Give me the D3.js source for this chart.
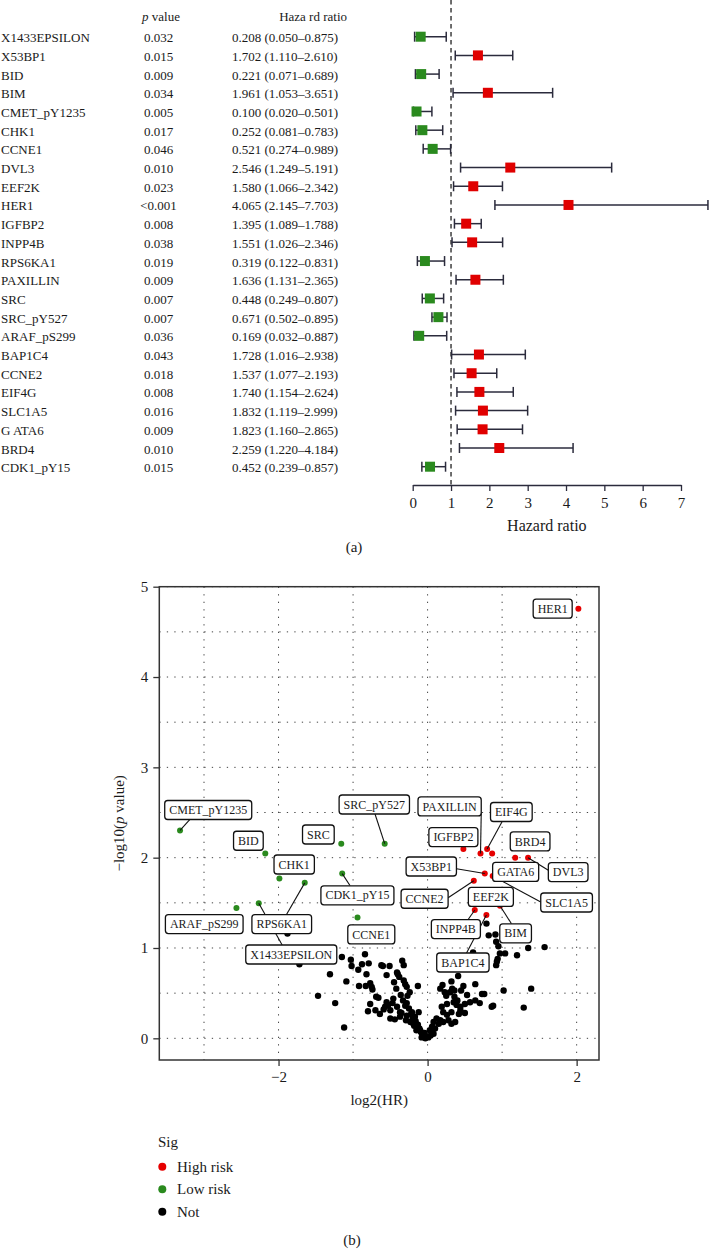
<!DOCTYPE html>
<html lang="en">
<head>
<meta charset="UTF-8">
<title>Hazard ratio forest plot and volcano plot</title>
<script src="https://cdn.jsdelivr.net/npm/d3@7"></script>
<style>
  body { margin: 0; background: #fff; }
  svg { display: block; }
  text { font-family: 'Liberation Serif', 'Times New Roman', serif; fill: #1a1a1a; }
</style>
</head>
<body>
<svg id="chart" width="709" height="1250"></svg>
<script>
// ---- data: forest table ----
const genes = ["X1433EPSILON", "X53BP1", "BID", "BIM", "CMET_pY1235", "CHK1", "CCNE1", "DVL3",
  "EEF2K", "HER1", "IGFBP2", "INPP4B", "RPS6KA1", "PAXILLIN", "SRC", "SRC_pY527", "ARAF_pS299",
  "BAP1C4", "CCNE2", "EIF4G", "SLC1A5", "GATA6", "BRD4", "CDK1_pY15"];
const geneDisplay = ["X1433EPSILON", "X53BP1", "BID", "BIM", "CMET_pY1235", "CHK1", "CCNE1", "DVL3",
  "EEF2K", "HER1", "IGFBP2", "INPP4B", "RPS6KA1", "PAXILLIN", "SRC", "SRC_pY527", "ARAF_pS299",
  "BAP1C4", "CCNE2", "EIF4G", "SLC1A5", "G ATA6", "BRD4", "CDK1_pY15"];
const pLabels = ["0.032", "0.015", "0.009", "0.034", "0.005", "0.017", "0.046", "0.010", "0.023",
  "<0.001", "0.008", "0.038", "0.019", "0.009", "0.007", "0.007", "0.036", "0.043", "0.018",
  "0.008", "0.016", "0.009", "0.010", "0.015"];
const hrValues = [0.208, 1.702, 0.221, 1.961, 0.100, 0.252, 0.521, 2.546, 1.580, 4.065, 1.395, 1.551,
  0.319, 1.636, 0.448, 0.671, 0.169, 1.728, 1.537, 1.740, 1.832, 1.823, 2.259, 0.452];
const hrLower = [0.050, 1.110, 0.071, 1.053, 0.020, 0.081, 0.274, 1.249, 1.066, 2.145, 1.089, 1.026,
  0.122, 1.131, 0.249, 0.502, 0.032, 1.016, 1.077, 1.154, 1.119, 1.160, 1.220, 0.239];
const hrUpper = [0.875, 2.610, 0.689, 3.651, 0.501, 0.783, 0.989, 5.191, 2.342, 7.703, 1.788, 2.346,
  0.831, 2.365, 0.807, 0.895, 0.887, 2.938, 2.193, 2.624, 2.999, 2.865, 4.184, 0.857];
// numeric p values (HER1)
const pValues = [0.032, 0.015, 0.009, 0.034, 0.005, 0.017, 0.046, 0.010, 0.023, 0.0000175, 0.008,
  0.038, 0.019, 0.009, 0.007, 0.007, 0.036, 0.043, 0.018, 0.008, 0.016, 0.009, 0.010, 0.015];
const hrTicks = [0, 1, 2, 3, 4, 5, 6, 7];
const volcanoXTicks = [-2, 0, 2];
const volcanoYTicks = [0, 1, 2, 3, 4, 5];

// ---- data: non significant proteins (log2 HR, -log10 p) ----
const notSig = [
  [-1.88, 1.16], [-1.72, 0.82], [-1.47, 0.47], [-1.31, 0.71], [-1.24, 0.39], [-1.15, 0.90],
  [-1.12, 0.12], [-1.09, 0.63], [-1.03, 0.87], [-1.02, 0.80], [-0.93, 0.76], [-0.92, 0.58],
  [-0.88, 0.82], [-0.84, 0.93], [-0.83, 0.58], [-0.82, 0.71], [-0.80, 0.30], [-0.79, 0.83],
  [-0.77, 0.61], [-0.77, 0.38], [-0.75, 0.57], [-0.74, 0.54], [-0.70, 0.31], [-0.69, 0.46],
  [-0.66, 0.45], [-0.64, 0.27], [-0.62, 0.81], [-0.60, 0.80], [-0.59, 0.32], [-0.57, 0.35],
  [-0.55, 0.70], [-0.55, 0.40], [-0.53, 0.37], [-0.51, 0.80], [-0.50, 0.31], [-0.50, 0.22],
  [-0.47, 0.39], [-0.46, 0.44], [-0.45, 0.62], [-0.44, 0.21], [-0.42, 0.55], [-0.41, 0.73],
  [-0.41, 0.35], [-0.40, 0.71], [-0.38, 0.68], [-0.37, 0.29], [-0.37, 0.24], [-0.36, 0.48],
  [-0.35, 0.28], [-0.34, 0.86], [-0.33, 0.42], [-0.32, 0.81], [-0.32, 0.64], [-0.30, 0.60],
  [-0.30, 0.36], [-0.29, 0.20], [-0.28, 0.57], [-0.28, 0.39], [-0.28, 0.25], [-0.27, 0.47],
  [-0.25, 0.33], [-0.24, 0.51], [-0.23, 0.18], [-0.22, 0.27], [-0.21, 0.29], [-0.20, 0.22],
  [-0.19, 0.16], [-0.18, 0.14], [-0.17, 0.24], [-0.16, 0.19], [-0.15, 0.13], [-0.15, 0.09],
  [-0.13, 0.58], [-0.13, 0.15], [-0.12, 0.29], [-0.11, 0.11], [-0.10, 0.09], [-0.09, 0.07],
  [-0.08, 0.01], [-0.07, 0.04], [-0.06, 0.05], [-0.05, 0.03], [-0.04, 0.06], [-0.03, 0.00],
  [-0.01, 0.02], [0.01, 0.01], [0.03, 0.09], [0.04, 0.03], [0.06, 0.13], [0.08, 0.05],
  [0.08, 0.18], [0.10, 0.11], [0.12, 0.22], [0.15, 0.16], [0.17, 0.20], [0.17, 0.55],
  [0.19, 0.35], [0.20, 0.59], [0.21, 0.29], [0.21, 0.18], [0.23, 0.51], [0.25, 0.47],
  [0.26, 0.26], [0.26, 0.38], [0.28, 0.20], [0.30, 0.51], [0.32, 0.63], [0.32, 0.29],
  [0.32, 0.16], [0.33, 0.55], [0.35, 0.40], [0.36, 0.53], [0.36, 0.46], [0.37, 0.18],
  [0.39, 0.37], [0.40, 0.42], [0.41, 0.69], [0.42, 0.27], [0.44, 0.31], [0.44, 0.35],
  [0.45, 0.53], [0.48, 0.58], [0.50, 0.28], [0.50, 0.38], [0.53, 0.48], [0.57, 0.40],
  [0.61, 0.95], [0.64, 0.60], [0.64, 0.42], [0.70, 0.39], [0.73, 0.49], [0.76, 0.49],
  [0.79, 1.27], [0.82, 1.14], [0.86, 0.35], [0.88, 0.36], [0.91, 1.15], [0.92, 1.07],
  [0.92, 0.81], [0.93, 0.85], [0.94, 0.88], [0.95, 1.02], [0.97, 0.94], [1.02, 0.53],
  [1.04, 0.94], [1.20, 0.92], [1.29, 0.34], [1.35, 1.00], [1.39, 0.55], [1.57, 1.01]
];

const sigNames = ["High risk", "Low risk", "Not"];
const sigColors = ["#e60000", "#2a8a1e", "#000000"];

// label placement (pixel offset of box centre from the point, leader anchor on box)
const labelLayout = {
  "X1433EPSILON": [32.5, 51.2, 0.40, 0], "X53BP1": [-53.5, -7.1, 1, 0.62], "BID": [-16.9, -12.8],
  "BIM": [15.6, 27.6, 0.37, 0], "CMET_pY1235": [28.2, -20.5, 0.29, 1], "CHK1": [14.8, -14],
  "CCNE1": [13.8, 16.9], "DVL3": [40.1, 14.4, 0, 0.4], "EEF2K": [14.1, 6.6], "HER1": [-25.7, 0],
  "IGFBP2": [-10, -11.8], "INPP4B": [-18.9, 19, 0.75, 0], "RPS6KA1": [-23, 41.2, 0.58, 0],
  "PAXILLIN": [-30.9, -47.1, 1, 0.85], "SRC": [-22.9, -9.2], "SRC_pY527": [-10.4, -39.2, 0.51, 1],
  "ARAF_pS299": [-32.2, 16.2], "BAP1C4": [-23.5, 47.6, 0.57, 0], "CCNE2": [-49.2, 18, 1, 0.45],
  "EIF4G": [24.2, -36.9, 0.28, 1], "SLC1A5": [73.9, 26.4, 0, 0.47], "GATA6": [23.5, 18.4],
  "BRD4": [14.9, -16.2], "CDK1_pY15": [15.2, 21.7, 0.4, 0]
};

const svg = d3.select("#chart");
const rows = genes.map((g, i) => ({
  gene: g, label: geneDisplay[i], p: pLabels[i], hr: hrValues[i], lo: hrLower[i], hi: hrUpper[i],
  pv: pValues[i]
}));

// ================= (a) forest plot =================
const yRow = d3.scalePoint().domain(genes).range([36.7, 466.7]);
const xHr = d3.scaleLinear().domain([0, 7]).range([412.7, 681]);
const axisY = 485;

const hdr = svg.append("g").style("font-size", "13px");
hdr.append("text").attr("x", 161).attr("y", 21).attr("text-anchor", "middle")
  .call(t => { t.append("tspan").style("font-style", "italic").text("p"); t.append("tspan").text(" value"); });
hdr.append("text").attr("x", 347).attr("y", 21).attr("text-anchor", "end").text("Haza rd ratio");

const table = svg.append("g").style("font-size", "13px");
table.selectAll(".gname").data(rows).join("text")
  .attr("x", 1).attr("y", d => yRow(d.gene) + 5.5).text(d => d.label);
table.selectAll(".pval").data(rows).join("text")
  .attr("x", 158.5).attr("y", d => yRow(d.gene) + 5.5).attr("text-anchor", "middle").text(d => d.p);
table.selectAll(".hrtxt").data(rows).join("text")
  .attr("x", 232).attr("y", d => yRow(d.gene) + 5.5)
  .text(d => `${d.hr.toFixed(3)} (${d.lo.toFixed(3)}–${d.hi.toFixed(3)})`);

// reference line at HR = 1
svg.append("line")
  .attr("x1", xHr(1)).attr("x2", xHr(1)).attr("y1", 0).attr("y2", axisY)
  .attr("stroke", "#555").attr("stroke-width", 1.7).attr("stroke-dasharray", "4.5,3.5");

const bars = svg.append("g").attr("stroke", "#2b2b3c").attr("stroke-width", 1.5);
bars.selectAll(".ci").data(rows).join("line")
  .attr("x1", d => xHr(d.lo)).attr("x2", d => xHr(d.hi))
  .attr("y1", d => yRow(d.gene)).attr("y2", d => yRow(d.gene));
bars.selectAll(".capL").data(rows).join("line")
  .attr("x1", d => xHr(d.lo)).attr("x2", d => xHr(d.lo))
  .attr("y1", d => yRow(d.gene) - 5).attr("y2", d => yRow(d.gene) + 5);
bars.selectAll(".capR").data(rows).join("line")
  .attr("x1", d => xHr(d.hi)).attr("x2", d => xHr(d.hi))
  .attr("y1", d => yRow(d.gene) - 5).attr("y2", d => yRow(d.gene) + 5);

svg.append("g").selectAll("rect").data(rows).join("rect")
  .attr("x", d => xHr(d.hr) - 5).attr("y", d => yRow(d.gene) - 5)
  .attr("width", 10).attr("height", 10)
  .attr("fill", d => d.hr > 1 ? "#e00000" : "#2a8a1e");

const hrAxis = svg.append("g").attr("transform", `translate(0,${axisY})`)
  .call(d3.axisBottom(xHr).tickValues(hrTicks).tickFormat(d3.format("d"))
    .tickSize(6).tickSizeOuter(0).tickPadding(6));
hrAxis.select(".domain").attr("stroke", "#2b2b3c").attr("stroke-width", 1.5);
hrAxis.selectAll(".tick line").attr("stroke", "#2b2b3c").attr("stroke-width", 1.3);
hrAxis.selectAll(".tick text").style("font-family", "'Liberation Serif', serif")
  .style("font-size", "15px").attr("fill", "#1a1a1a");
svg.append("text").attr("x", xHr(3.5)).attr("y", 531).attr("text-anchor", "middle")
  .style("font-size", "16px").text("Hazard ratio");
svg.append("text").attr("x", 354).attr("y", 552).attr("text-anchor", "middle")
  .style("font-size", "15px").text("(a)");

// ================= (b) volcano plot =================
const vx = d3.scaleLinear().domain([-3.6, 2.3]).range([159.3, 599]);
const vy = d3.scaleLinear().domain([-0.24, 5]).range([1060, 586.7]);
const [vx0, vx1] = vx.range();
const [vyBottom, vyTop] = vy.range();

const grid = svg.append("g").attr("stroke", "#444").attr("stroke-width", 1)
  .attr("stroke-dasharray", "1.3,6.2");
grid.selectAll(".gv").data([-3, -2, -1, 0, 1, 2]).join("line")
  .attr("x1", d => vx(d)).attr("x2", d => vx(d)).attr("y1", vyTop).attr("y2", vyBottom);
grid.selectAll(".gh").data(d3.range(0, 5.01, 0.5)).join("line")
  .attr("x1", vx0).attr("x2", vx1).attr("y1", d => vy(d)).attr("y2", d => vy(d));

const sigRows = rows.map(d => ({
  gene: d.gene, x: Math.log2(d.hr), y: -Math.log10(d.pv), sig: d.hr > 1 ? 0 : 1
}));

svg.append("g").selectAll("circle").data(notSig).join("circle")
  .attr("cx", d => vx(d[0])).attr("cy", d => vy(d[1])).attr("r", 3.2).attr("fill", sigColors[2]);
svg.append("g").selectAll("circle").data(sigRows).join("circle")
  .attr("cx", d => vx(d.x)).attr("cy", d => vy(d.y)).attr("r", 3).attr("fill", d => sigColors[d.sig]);

// repelled labels
const labelG = svg.append("g");
const leaders = labelG.append("g").attr("stroke", "#111").attr("stroke-width", 1.1);
const boxes = labelG.append("g");
sigRows.forEach(d => {
  const lay = labelLayout[d.gene];
  const px = vx(d.x), py = vy(d.y);
  const cx = px + lay[0], cy = py + lay[1];
  const g = boxes.append("g");
  const t = g.append("text").attr("x", cx).attr("y", cy + 4.2).attr("text-anchor", "middle")
    .style("font-size", "12px").attr("fill", "#111").text(d.gene);
  const w = t.node().getComputedTextLength() + 9, h = 19;
  g.insert("rect", "text").attr("x", cx - w / 2).attr("y", cy - h / 2).attr("width", w).attr("height", h)
    .attr("rx", 3).attr("fill", "#fff").attr("stroke", "#111").attr("stroke-width", 1.3);
  if (lay.length > 2) {
    leaders.append("line").attr("x1", px).attr("y1", py)
      .attr("x2", cx - w / 2 + lay[2] * w).attr("y2", cy - h / 2 + lay[3] * h);
  }
});

// axes and frame
const yAx = svg.append("g").attr("transform", `translate(${vx0},0)`)
  .call(d3.axisLeft(vy).tickValues(volcanoYTicks).tickFormat(d3.format("d"))
    .tickSize(6).tickSizeOuter(0).tickPadding(5));
const xAx = svg.append("g").attr("transform", `translate(0,${vyBottom})`)
  .call(d3.axisBottom(vx).tickValues(volcanoXTicks).tickFormat(d => d < 0 ? "−" + Math.abs(d) : d)
    .tickSize(6).tickSizeOuter(0).tickPadding(5));
[yAx, xAx].forEach(a => {
  a.select(".domain").remove();
  a.selectAll(".tick line").attr("stroke", "#333").attr("stroke-width", 1.3);
  a.selectAll(".tick text").style("font-family", "'Liberation Serif', serif")
    .style("font-size", "15px").attr("fill", "#1a1a1a");
});
svg.append("rect").attr("x", vx0).attr("y", vyTop).attr("width", vx1 - vx0).attr("height", vyBottom - vyTop)
  .attr("fill", "none").attr("stroke", "#333").attr("stroke-width", 1.5);

svg.append("text").attr("x", (vx0 + vx1) / 2).attr("y", 1105).attr("text-anchor", "middle")
  .style("font-size", "15px").text("log2(HR)");
svg.append("text").attr("transform", `translate(124,${(vyTop + vyBottom) / 2}) rotate(-90)`)
  .attr("text-anchor", "middle").style("font-size", "15px")
  .call(t => {
    t.append("tspan").text("−log10(");
    t.append("tspan").style("font-style", "italic").text("p");
    t.append("tspan").text(" value)");
  });

// legend
const leg = svg.append("g").style("font-size", "15px");
leg.append("text").attr("x", 158).attr("y", 1147).text("Sig");
sigNames.forEach((name, i) => {
  const cy = 1166.7 + i * 22.5;
  leg.append("circle").attr("cx", 162.3).attr("cy", cy).attr("r", 4).attr("fill", sigColors[i]);
  leg.append("text").attr("x", 177).attr("y", cy + 5).text(name);
});

svg.append("text").attr("x", 352).attr("y", 1245).attr("text-anchor", "middle")
  .style("font-size", "15px").text("(b)");
</script>
</body>
</html>
